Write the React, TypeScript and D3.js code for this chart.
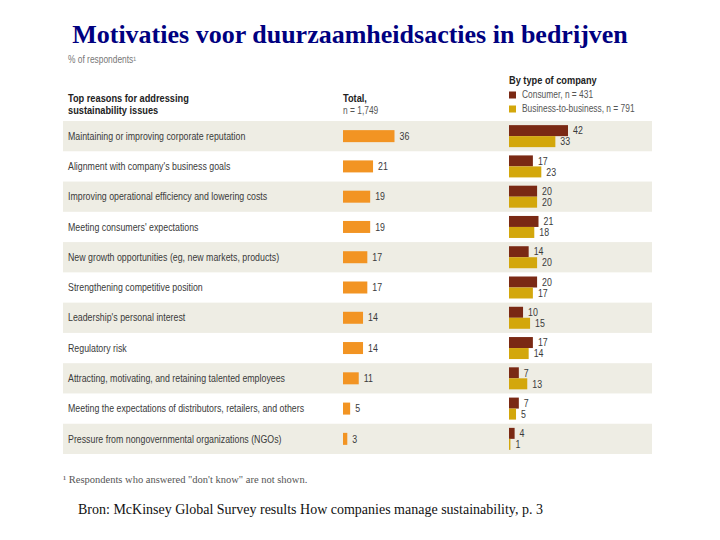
import React from "react";
import * as d3 from "d3";

const reasons = [
  "Maintaining or improving corporate reputation",
  "Alignment with company's business goals",
  "Improving operational efficiency and lowering costs",
  "Meeting consumers' expectations",
  "New growth opportunities (eg, new markets, products)",
  "Strengthening competitive position",
  "Leadership's personal interest",
  "Regulatory risk",
  "Attracting, motivating, and retaining talented employees",
  "Meeting the expectations of distributors, retailers, and others",
  "Pressure from nongovernmental organizations (NGOs)",
];
const totalValues = [36, 21, 19, 19, 17, 17, 14, 14, 11, 5, 3];
const consumerValues = [42, 17, 20, 21, 14, 20, 10, 17, 7, 7, 4];
const b2bValues = [33, 23, 20, 18, 20, 17, 15, 14, 13, 5, 1];

const W = 720;
const H = 540;
const SANS = "'Liberation Sans', Arial, sans-serif";
const SERIF = "'Liberation Serif', 'Times New Roman', serif";
const C_TOTAL = "#F29423";
const C_CONS = "#7A2914";
const C_B2B = "#D3A70C";
const C_SHADE = "#EEEDE4";
const C_TEXT = "#3a3a3a";
const SX = 0.84;

function NText(props: {
  x: number;
  y: number;
  children: React.ReactNode;
  size?: number;
  bold?: boolean;
  fill?: string;
  dy?: string;
  sx?: number;
}) {
  const { x, y, children, size = 10.5, bold = false, fill = C_TEXT, dy, sx = SX } = props;
  return (
    <text
      transform={`translate(${x},${y}) scale(${sx},1)`}
      dy={dy}
      fontFamily={SANS}
      fontSize={size}
      fontWeight={bold ? "bold" : "normal"}
      fill={fill}
    >
      {children}
    </text>
  );
}

export default function App() {
  const y = d3.scaleBand<number>().domain(d3.range(reasons.length)).range([121, 454]).padding(0);
  const xTotal = d3.scaleLinear().domain([0, 36]).range([343, 343 + 51.5]);
  const xComp = d3.scaleLinear().domain([0, 42]).range([509, 509 + 59]);

  return (
    <svg width={W} height={H} style={{ position: "absolute", left: 0, top: 0, background: "#fff" }}>
      <text x={350} y={43} textAnchor="middle" fontFamily={SERIF} fontWeight="bold" fontSize={26} fill="#000080">
        Motivaties voor duurzaamheidsacties in bedrijven
      </text>

      <NText x={68} y={63} size={10} fill="#777">% of respondents¹</NText>

      <NText x={68} y={102} bold fill="#222" sx={0.88}>Top reasons for addressing</NText>
      <NText x={68} y={114} bold fill="#222" sx={0.88}>sustainability issues</NText>
      <NText x={343} y={102} bold fill="#222" sx={0.88}>Total,</NText>
      <NText x={343} y={114} fill="#555" sx={0.8}>n = 1,749</NText>

      <NText x={509} y={84} bold fill="#222" sx={0.88}>By type of company</NText>
      <rect x={509} y={91.5} width={7} height={7} fill={C_CONS} />
      <NText x={522} y={98} size={10} fill="#555">Consumer, n = 431</NText>
      <rect x={509} y={105.5} width={7} height={7} fill={C_B2B} />
      <NText x={522} y={112} size={10} fill="#555">Business-to-business, n = 791</NText>

      {reasons.map((r, i) => {
        const top = y(i)!;
        const c = top + y.bandwidth() / 2;
        return (
          <g key={i}>
            {i % 2 === 0 && <rect x={63} y={top} width={589} height={y.bandwidth()} fill={C_SHADE} />}
            <NText x={68} y={c} dy="0.35em">{r}</NText>
            <rect x={xTotal(0)} y={c - 6} width={xTotal(totalValues[i]) - xTotal(0)} height={12} fill={C_TOTAL} />
            <NText x={xTotal(totalValues[i]) + 5} y={c} dy="0.35em">{totalValues[i]}</NText>
            <rect x={xComp(0)} y={c - 11} width={xComp(consumerValues[i]) - xComp(0)} height={11} fill={C_CONS} />
            <rect x={xComp(0)} y={c} width={xComp(b2bValues[i]) - xComp(0)} height={11} fill={C_B2B} />
            <NText x={xComp(consumerValues[i]) + 5} y={c - 5.5} dy="0.35em">{consumerValues[i]}</NText>
            <NText x={xComp(b2bValues[i]) + 5} y={c + 5.5} dy="0.35em">{b2bValues[i]}</NText>
          </g>
        );
      })}

      <text x={63} y={483} fontFamily={SERIF} fontSize={10.5} fill="#555">¹ Respondents who answered "don't know" are not shown.</text>

      <text x={78} y={514} fontFamily={SERIF} fontSize={14} fill="#111">
        Bron: McKinsey Global Survey results How companies manage sustainability, p. 3
      </text>
    </svg>
  );
}
